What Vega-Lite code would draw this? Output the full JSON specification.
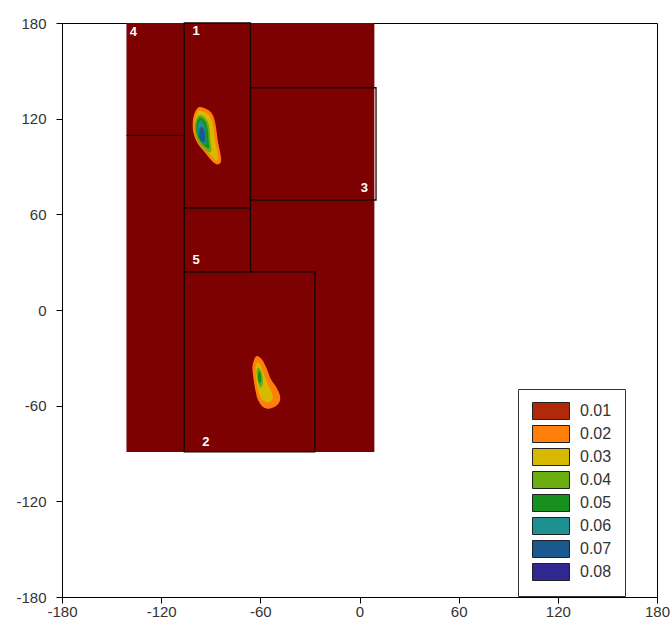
{
  "$schema": "https://vega.github.io/schema/vega-lite/v6.json",
  "width": 595,
  "height": 574,
  "autosize": {"type": "none"},
  "padding": {"left": 62, "top": 23, "right": 13, "bottom": 27},
  "background": "white",
  "config": {
    "view": {"stroke": "#000", "strokeWidth": 1},
    "axis": {
      "grid": false,
      "domainColor": "#000",
      "tickColor": "#000",
      "labelColor": "#333",
      "labelFont": "Liberation Sans",
      "labelFontSize": 15,
      "labelFlush": false,
      "labelOverlap": false,
      "labelExpr": "'' + datum.value",
      "title": null
    },
    "axisX": {"tickSize": 6, "labelPadding": 1},
    "axisY": {"tickSize": 6, "labelPadding": 10}
  },
  "datasets": {
    "region": [{"x": -141, "x2": 9, "y": -89, "y2": 180}],
    "boxes": [
      {"box": "1", "x": -106, "x2": -66, "y": 64, "y2": 180},
      {"box": "5", "x": -106, "x2": -66, "y": 24, "y2": 64},
      {"box": "2", "x": -106, "x2": -27, "y": -89, "y2": 24},
      {"box": "3", "x": -66, "x2": 10, "y": 69, "y2": 139.4}
    ],
    "lines": [{"x": -141, "x2": -106, "y": 109.5}],
    "labels": [
      {"t": "4", "x": -136.8, "y": 174.4},
      {"t": "1", "x": -98.9, "y": 174.7},
      {"t": "3", "x": 3, "y": 76.5},
      {"t": "5", "x": -98.9, "y": 31.3},
      {"t": "2", "x": -92.9, "y": -82.9}
    ],
    "contours": [
      {"p": "1-02", "v": "0.02", "i": 0, "x": -96.5, "y": 127.3},
      {"p": "1-02", "v": "0.02", "i": 1, "x": -91.5, "y": 125.4},
      {"p": "1-02", "v": "0.02", "i": 2, "x": -88.4, "y": 121.5},
      {"p": "1-02", "v": "0.02", "i": 3, "x": -86.8, "y": 114.5},
      {"p": "1-02", "v": "0.02", "i": 4, "x": -85.8, "y": 106.6},
      {"p": "1-02", "v": "0.02", "i": 5, "x": -84.2, "y": 98.3},
      {"p": "1-02", "v": "0.02", "i": 6, "x": -83.8, "y": 93.0},
      {"p": "1-02", "v": "0.02", "i": 7, "x": -86.2, "y": 91.3},
      {"p": "1-02", "v": "0.02", "i": 8, "x": -89.4, "y": 93.6},
      {"p": "1-02", "v": "0.02", "i": 9, "x": -93.5, "y": 98.8},
      {"p": "1-02", "v": "0.02", "i": 10, "x": -97.8, "y": 104.2},
      {"p": "1-02", "v": "0.02", "i": 11, "x": -100.4, "y": 110.8},
      {"p": "1-02", "v": "0.02", "i": 12, "x": -100.9, "y": 117.1},
      {"p": "1-02", "v": "0.02", "i": 13, "x": -100.2, "y": 122.3},
      {"p": "1-02", "v": "0.02", "i": 14, "x": -98.6, "y": 125.8},

      {"p": "1-03", "v": "0.03", "i": 0, "x": -96.5, "y": 125.2},
      {"p": "1-03", "v": "0.03", "i": 1, "x": -92.2, "y": 123.2},
      {"p": "1-03", "v": "0.03", "i": 2, "x": -89.6, "y": 119.5},
      {"p": "1-03", "v": "0.03", "i": 3, "x": -88.2, "y": 113},
      {"p": "1-03", "v": "0.03", "i": 4, "x": -87.4, "y": 106},
      {"p": "1-03", "v": "0.03", "i": 5, "x": -85.8, "y": 98.5},
      {"p": "1-03", "v": "0.03", "i": 6, "x": -85.6, "y": 94.5},
      {"p": "1-03", "v": "0.03", "i": 7, "x": -87, "y": 93.6},
      {"p": "1-03", "v": "0.03", "i": 8, "x": -89.4, "y": 96.2},
      {"p": "1-03", "v": "0.03", "i": 9, "x": -93.2, "y": 100.8},
      {"p": "1-03", "v": "0.03", "i": 10, "x": -96.8, "y": 105.6},
      {"p": "1-03", "v": "0.03", "i": 11, "x": -99.2, "y": 111.3},
      {"p": "1-03", "v": "0.03", "i": 12, "x": -99.7, "y": 117},
      {"p": "1-03", "v": "0.03", "i": 13, "x": -99.1, "y": 121.6},
      {"p": "1-03", "v": "0.03", "i": 14, "x": -98, "y": 124.2},

      {"p": "1-04", "v": "0.04", "i": 0, "x": -96.2, "y": 122.3},
      {"p": "1-04", "v": "0.04", "i": 1, "x": -92.6, "y": 119.5},
      {"p": "1-04", "v": "0.04", "i": 2, "x": -90.8, "y": 114},
      {"p": "1-04", "v": "0.04", "i": 3, "x": -90.2, "y": 106},
      {"p": "1-04", "v": "0.04", "i": 4, "x": -89.6, "y": 100.5},
      {"p": "1-04", "v": "0.04", "i": 5, "x": -91, "y": 98.8},
      {"p": "1-04", "v": "0.04", "i": 6, "x": -94, "y": 101.3},
      {"p": "1-04", "v": "0.04", "i": 7, "x": -97.5, "y": 105.5},
      {"p": "1-04", "v": "0.04", "i": 8, "x": -99.4, "y": 111},
      {"p": "1-04", "v": "0.04", "i": 9, "x": -99.6, "y": 116},
      {"p": "1-04", "v": "0.04", "i": 10, "x": -98.6, "y": 120.2},

      {"p": "1-05", "v": "0.05", "i": 0, "x": -96, "y": 120.8},
      {"p": "1-05", "v": "0.05", "i": 1, "x": -93.2, "y": 118},
      {"p": "1-05", "v": "0.05", "i": 2, "x": -91.8, "y": 113},
      {"p": "1-05", "v": "0.05", "i": 3, "x": -91.3, "y": 106.6},
      {"p": "1-05", "v": "0.05", "i": 4, "x": -91, "y": 101.6},
      {"p": "1-05", "v": "0.05", "i": 5, "x": -93.2, "y": 102.4},
      {"p": "1-05", "v": "0.05", "i": 6, "x": -96.5, "y": 106.2},
      {"p": "1-05", "v": "0.05", "i": 7, "x": -98.6, "y": 111.5},
      {"p": "1-05", "v": "0.05", "i": 8, "x": -98.8, "y": 115.5},
      {"p": "1-05", "v": "0.05", "i": 9, "x": -98, "y": 119},

      {"p": "1-06", "v": "0.06", "i": 0, "x": -96, "y": 118.8},
      {"p": "1-06", "v": "0.06", "i": 1, "x": -94, "y": 116.2},
      {"p": "1-06", "v": "0.06", "i": 2, "x": -93, "y": 111.8},
      {"p": "1-06", "v": "0.06", "i": 3, "x": -92.6, "y": 107},
      {"p": "1-06", "v": "0.06", "i": 4, "x": -92.8, "y": 104},
      {"p": "1-06", "v": "0.06", "i": 5, "x": -94.8, "y": 104.8},
      {"p": "1-06", "v": "0.06", "i": 6, "x": -97.2, "y": 108.5},
      {"p": "1-06", "v": "0.06", "i": 7, "x": -98, "y": 112.5},
      {"p": "1-06", "v": "0.06", "i": 8, "x": -97.6, "y": 116.5},

      {"p": "1-07", "v": "0.07", "i": 0, "x": -95.6, "y": 115},
      {"p": "1-07", "v": "0.07", "i": 1, "x": -94, "y": 113},
      {"p": "1-07", "v": "0.07", "i": 2, "x": -93.4, "y": 109.5},
      {"p": "1-07", "v": "0.07", "i": 3, "x": -93.4, "y": 106},
      {"p": "1-07", "v": "0.07", "i": 4, "x": -94.5, "y": 105.2},
      {"p": "1-07", "v": "0.07", "i": 5, "x": -96.2, "y": 106.5},
      {"p": "1-07", "v": "0.07", "i": 6, "x": -97.2, "y": 109.5},
      {"p": "1-07", "v": "0.07", "i": 7, "x": -97.1, "y": 112.8},

      {"p": "2-02", "v": "0.02", "i": 0, "x": -62.2, "y": -28.8},
      {"p": "2-02", "v": "0.02", "i": 1, "x": -59, "y": -31},
      {"p": "2-02", "v": "0.02", "i": 2, "x": -56.2, "y": -36.6},
      {"p": "2-02", "v": "0.02", "i": 3, "x": -53.6, "y": -43.5},
      {"p": "2-02", "v": "0.02", "i": 4, "x": -50.2, "y": -48.8},
      {"p": "2-02", "v": "0.02", "i": 5, "x": -48, "y": -54.4},
      {"p": "2-02", "v": "0.02", "i": 6, "x": -49.2, "y": -59},
      {"p": "2-02", "v": "0.02", "i": 7, "x": -53.8, "y": -61.8},
      {"p": "2-02", "v": "0.02", "i": 8, "x": -58.4, "y": -60.8},
      {"p": "2-02", "v": "0.02", "i": 9, "x": -61.4, "y": -56.5},
      {"p": "2-02", "v": "0.02", "i": 10, "x": -62.8, "y": -51.3},
      {"p": "2-02", "v": "0.02", "i": 11, "x": -64, "y": -44},
      {"p": "2-02", "v": "0.02", "i": 12, "x": -64.8, "y": -36.6},
      {"p": "2-02", "v": "0.02", "i": 13, "x": -64, "y": -32},

      {"p": "2-03", "v": "0.03", "i": 0, "x": -61.8, "y": -33},
      {"p": "2-03", "v": "0.03", "i": 1, "x": -59.8, "y": -35},
      {"p": "2-03", "v": "0.03", "i": 2, "x": -58, "y": -39.5},
      {"p": "2-03", "v": "0.03", "i": 3, "x": -56, "y": -45.5},
      {"p": "2-03", "v": "0.03", "i": 4, "x": -53.5, "y": -50.5},
      {"p": "2-03", "v": "0.03", "i": 5, "x": -52.4, "y": -54.5},
      {"p": "2-03", "v": "0.03", "i": 6, "x": -53.4, "y": -57},
      {"p": "2-03", "v": "0.03", "i": 7, "x": -56, "y": -57.8},
      {"p": "2-03", "v": "0.03", "i": 8, "x": -58.8, "y": -56.5},
      {"p": "2-03", "v": "0.03", "i": 9, "x": -60.6, "y": -53},
      {"p": "2-03", "v": "0.03", "i": 10, "x": -61.8, "y": -48.5},
      {"p": "2-03", "v": "0.03", "i": 11, "x": -62.7, "y": -42.5},
      {"p": "2-03", "v": "0.03", "i": 12, "x": -62.9, "y": -37},

      {"p": "2-04", "v": "0.04", "i": 0, "x": -61.4, "y": -36},
      {"p": "2-04", "v": "0.04", "i": 1, "x": -59.8, "y": -37.5},
      {"p": "2-04", "v": "0.04", "i": 2, "x": -58.8, "y": -41},
      {"p": "2-04", "v": "0.04", "i": 3, "x": -58.4, "y": -45.5},
      {"p": "2-04", "v": "0.04", "i": 4, "x": -59, "y": -48.2},
      {"p": "2-04", "v": "0.04", "i": 5, "x": -60.4, "y": -48.2},
      {"p": "2-04", "v": "0.04", "i": 6, "x": -61.6, "y": -45},
      {"p": "2-04", "v": "0.04", "i": 7, "x": -62.2, "y": -40.5},
      {"p": "2-04", "v": "0.04", "i": 8, "x": -62.1, "y": -37.2},

      {"p": "2-05", "v": "0.05", "i": 0, "x": -61, "y": -38.5},
      {"p": "2-05", "v": "0.05", "i": 1, "x": -60, "y": -39.3},
      {"p": "2-05", "v": "0.05", "i": 2, "x": -59.5, "y": -42},
      {"p": "2-05", "v": "0.05", "i": 3, "x": -59.5, "y": -44.8},
      {"p": "2-05", "v": "0.05", "i": 4, "x": -60.2, "y": -45.8},
      {"p": "2-05", "v": "0.05", "i": 5, "x": -61.1, "y": -44.2},
      {"p": "2-05", "v": "0.05", "i": 6, "x": -61.4, "y": -41.2}
    ]
  },
  "layer": [
    {
      "data": {"name": "region"},
      "mark": {"type": "rect", "fill": "#7d0101", "strokeWidth": 0},
      "encoding": {
        "x": {"field": "x", "type": "quantitative", "scale": {"domain": [-180, 180], "nice": false, "zero": false}, "axis": {"values": [-180, -120, -60, 0, 60, 120, 180]}},
        "x2": {"field": "x2"},
        "y": {"field": "y", "type": "quantitative", "scale": {"domain": [-180, 180], "nice": false, "zero": false}, "axis": {"values": [-180, -120, -60, 0, 60, 120, 180]}},
        "y2": {"field": "y2"}
      }
    },
    {
      "data": {"name": "contours"},
      "mark": {"type": "line", "filled": true, "strokeWidth": 0, "interpolate": "cardinal-closed"},
      "encoding": {
        "x": {"field": "x", "type": "quantitative"},
        "y": {"field": "y", "type": "quantitative"},
        "detail": {"field": "p", "type": "nominal"},
        "order": {"field": "i", "type": "quantitative"},
        "color": {
          "field": "v",
          "type": "nominal",
          "scale": {
            "domain": ["0.01", "0.02", "0.03", "0.04", "0.05", "0.06", "0.07", "0.08"],
            "range": ["#b02a0a", "#ff7f0a", "#d8b800", "#6aae12", "#189020", "#1f9090", "#1a5890", "#2e2890"]
          },
          "legend": {
            "orient": "none",
            "legendX": 456,
            "legendY": 366,
            "title": null,
            "strokeColor": "#333",
            "fillColor": "white",
            "padding": 13,
            "symbolType": "M-0.88,-1H3.47V1H-0.88Z",
            "symbolSize": 289,
            "symbolStrokeColor": "#222",
            "symbolStrokeWidth": 1,
            "symbolOpacity": 1,
            "labelFont": "Liberation Sans",
            "labelFontSize": 16,
            "labelColor": "#333",
            "labelOffset": 31,
            "rowPadding": 1,
            "encode": {
              "symbols": {
                "update": {
                  "fill": {"scale": "color", "field": "value"},
                  "stroke": {"value": "#222"},
                  "strokeWidth": {"value": 1},
                  "opacity": {"value": 1}
                }
              }
            }
          }
        }
      }
    },
    {
      "data": {"name": "boxes"},
      "mark": {"type": "rect", "fill": null, "fillOpacity": 0, "stroke": "#1c0505", "strokeWidth": 1.3},
      "encoding": {
        "x": {"field": "x", "type": "quantitative"},
        "x2": {"field": "x2"},
        "y": {"field": "y", "type": "quantitative"},
        "y2": {"field": "y2"}
      }
    },
    {
      "data": {"name": "lines"},
      "mark": {"type": "rule", "stroke": "#1c0505", "strokeWidth": 1.3},
      "encoding": {
        "x": {"field": "x", "type": "quantitative"},
        "x2": {"field": "x2"},
        "y": {"field": "y", "type": "quantitative"}
      }
    },
    {
      "data": {"name": "labels"},
      "mark": {"type": "text", "color": "white", "font": "Liberation Sans", "fontSize": 13, "fontWeight": "bold", "align": "center", "baseline": "middle"},
      "encoding": {
        "x": {"field": "x", "type": "quantitative"},
        "y": {"field": "y", "type": "quantitative"},
        "text": {"field": "t"}
      }
    }
  ]
}
